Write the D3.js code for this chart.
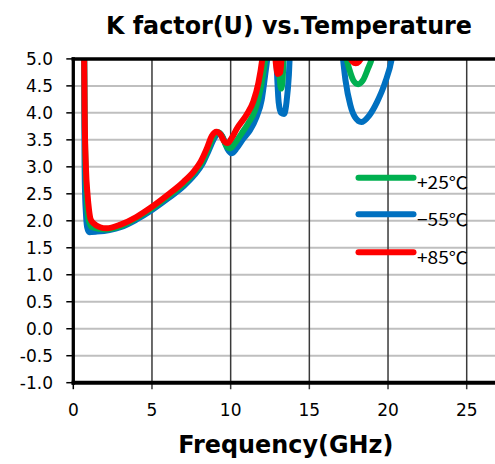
<!DOCTYPE html>
<html><head><meta charset="utf-8">
<script src="https://cdn.jsdelivr.net/npm/d3@7"></script>
<style>body{margin:0;background:#fff}svg{display:block}</style>
</head><body>
<svg id="c" width="495" height="464"></svg>
<script>
const titleText = "K factor(U) vs.Temperature";
const xLabel = "Frequency(GHz)";
const xTicks = [0, 5, 10, 15, 20, 25];
const yTicks = [-1.0, -0.5, 0.0, 0.5, 1.0, 1.5, 2.0, 2.5, 3.0, 3.5, 4.0, 4.5, 5.0];
const seriesNames = ["+25℃", "−55℃", "+85℃"];
const seriesColors = ["#00b050", "#0070c0", "#ff0000"];

// [GHz, K]; values above 5.0 are off the top of the chart
const green25 = [[0.69,5.3],[0.72,4.0],[0.78,3.0],[0.86,2.4],[0.97,2.02],[1.2,1.88],[2.0,1.84],[3,1.9],[4,2.05],[5,2.23],[6,2.45],[7,2.68],[7.7,2.9],[8.15,3.07],[8.55,3.32],[8.9,3.56],[9.2,3.64],[9.45,3.57],[9.7,3.4],[9.95,3.34],[10.3,3.45],[10.7,3.62],[11.1,3.8],[11.55,4.05],[11.9,4.45],[12.1,4.8],[12.3,5.2],[12.6,5.8],[12.95,5.3],[13.1,4.7],[13.2,4.45],[13.3,4.6],[13.4,5.3],[13.8,5.8],[17.0,5.8],[17.3,5.1],[17.55,4.8],[17.8,4.6],[18.1,4.53],[18.4,4.6],[18.7,4.8],[19.05,5.1],[19.4,5.8]];
const blue55 = [[0.69,5.3],[0.7,4.0],[0.71,3.3],[0.74,2.6],[0.8,2.15],[0.88,1.88],[1.0,1.79],[1.5,1.8],[2.3,1.83],[3,1.88],[4,2.02],[5,2.2],[6,2.41],[7,2.64],[7.7,2.85],[8.2,3.05],[8.6,3.3],[9.0,3.55],[9.25,3.63],[9.5,3.55],[9.8,3.33],[10.05,3.25],[10.4,3.35],[10.8,3.52],[11.23,3.68],[11.65,3.93],[11.97,4.24],[12.18,4.67],[12.39,5.16],[12.6,5.8],[12.85,5.3],[12.95,4.7],[13.05,4.2],[13.2,4.0],[13.4,3.98],[13.55,4.2],[13.7,4.7],[13.8,5.3],[14.2,5.8],[16.8,5.8],[17.1,5.1],[17.3,4.6],[17.6,4.15],[17.9,3.92],[18.3,3.83],[18.8,3.95],[19.3,4.2],[19.8,4.55],[20.3,5.1],[20.6,5.8]];
const red85 = [[0.68,5.3],[0.72,4.0],[0.8,3.0],[0.9,2.5],[1.0,2.2],[1.1,2.03],[1.3,1.95],[1.7,1.88],[2.1,1.86],[3,1.93],[4,2.07],[5,2.26],[6,2.48],[7,2.72],[7.7,2.93],[8.1,3.1],[8.5,3.35],[8.8,3.57],[9.1,3.65],[9.35,3.6],[9.6,3.47],[9.8,3.44],[10.1,3.55],[10.4,3.71],[11.0,3.96],[11.44,4.21],[11.76,4.55],[12.03,5.04],[12.2,5.5],[12.5,5.8],[12.75,5.3],[12.9,4.85],[13.0,4.72],[13.15,4.75],[13.3,5.3],[13.6,5.8],[17.2,5.8],[17.5,5.1],[17.75,4.95],[17.95,4.92],[18.15,4.95],[18.4,5.1],[18.7,5.8]];
const seriesData = [green25, blue55, red85];
const drawOrder = [1, 0, 2];

const svg = d3.select("#c");
const x0 = 73.3, pxPerGHz = 15.736;
const x = d3.scaleLinear().domain([0, 28]).range([x0, x0 + 28 * pxPerGHz]);
const y = d3.scaleLinear().domain([-1, 5]).range([382.7, 58.9]);
const W = 495;

// horizontal gridlines
svg.append("g").selectAll("line").data(yTicks.filter(v => v > -1 && v < 5)).join("line")
  .attr("x1", x0).attr("x2", W).attr("y1", d => y(d)).attr("y2", d => y(d))
  .attr("stroke", "#bfbfbf").attr("stroke-width", 2);
// vertical gridlines (extend below as ticks)
svg.append("g").selectAll("line").data(xTicks.filter(v => v > 0)).join("line")
  .attr("x1", d => x(d)).attr("x2", d => x(d)).attr("y1", y(5)).attr("y2", y(-1) + 6.5)
  .attr("stroke", "#3a3a3a").attr("stroke-width", 1.5);
// y ticks
svg.append("g").selectAll("line").data(yTicks).join("line")
  .attr("x1", x0 - 7).attr("x2", x0).attr("y1", d => y(d)).attr("y2", d => y(d))
  .attr("stroke", "#000").attr("stroke-width", 1.5);
svg.append("line").attr("x1", x0).attr("x2", x0).attr("y1", y(-1)).attr("y2", y(-1) + 6.5)
  .attr("stroke", "#000").attr("stroke-width", 1.5);

// clip
svg.append("clipPath").attr("id", "clip").append("rect")
  .attr("x", x0).attr("y", y(5) - 1).attr("width", W - x0).attr("height", y(-1) - y(5) + 1);

const line = d3.line().x(d => x(d[0])).y(d => y(d[1])).curve(d3.curveMonotoneX);
const g = svg.append("g").attr("clip-path", "url(#clip)");
drawOrder.forEach(i => {
  g.append("path").attr("d", line(seriesData[i])).attr("fill", "none")
    .attr("stroke", seriesColors[i]).attr("stroke-width", 6)
    .attr("stroke-linejoin", "round").attr("stroke-linecap", "round");
});

// axes / borders
svg.append("line").attr("x1", x0 - 1.7).attr("x2", W).attr("y1", y(5)).attr("y2", y(5))
  .attr("stroke", "#000").attr("stroke-width", 3.5);
svg.append("line").attr("x1", x0 - 1.7).attr("x2", W).attr("y1", y(-1)).attr("y2", y(-1))
  .attr("stroke", "#000").attr("stroke-width", 4);
svg.append("line").attr("x1", x0).attr("x2", x0).attr("y1", y(5) - 1.7).attr("y2", y(-1) + 2)
  .attr("stroke", "#000").attr("stroke-width", 3.3);

// tick labels
svg.append("g").selectAll("text").data(yTicks).join("text")
  .attr("x", 53).attr("y", d => y(d) + 6.5).attr("text-anchor", "end")
  .attr("font-family", "DejaVu Sans, sans-serif").attr("font-size", 17).attr("fill", "#000")
  .text(d => d.toFixed(1));
svg.append("g").selectAll("text").data(xTicks).join("text")
  .attr("x", d => x(d)).attr("y", 416).attr("text-anchor", "middle")
  .attr("font-family", "DejaVu Sans, sans-serif").attr("font-size", 17).attr("fill", "#000")
  .text(d => d);

// title & axis label
svg.append("text").attr("x", 106).attr("y", 34)
  .attr("font-family", "DejaVu Sans, sans-serif").attr("font-weight", "bold").attr("font-size", 25)
  .attr("textLength", 366).attr("lengthAdjust", "spacingAndGlyphs").text(titleText);
svg.append("text").attr("x", 178.3).attr("y", 453)
  .attr("font-family", "DejaVu Sans, sans-serif").attr("font-weight", "bold").attr("font-size", 24.5)
  .attr("textLength", 215).attr("lengthAdjust", "spacingAndGlyphs").text(xLabel);

// legend
const legY = [177.7, 214.3, 252.3];
const leg = svg.append("g");
seriesNames.forEach((n, i) => {
  leg.append("line").attr("x1", 358.5).attr("x2", 413.5).attr("y1", legY[i]).attr("y2", legY[i])
    .attr("stroke", seriesColors[i]).attr("stroke-width", 6).attr("stroke-linecap", "round");
  leg.append("text").attr("x", 417).attr("y", legY[i] + 11.6)
    .attr("font-family", "Noto Sans CJK JP, sans-serif").attr("font-size", 17).attr("fill", "#000")
    .attr("textLength", 51).attr("lengthAdjust", "spacingAndGlyphs").text(n);
});
</script>
</body></html>
